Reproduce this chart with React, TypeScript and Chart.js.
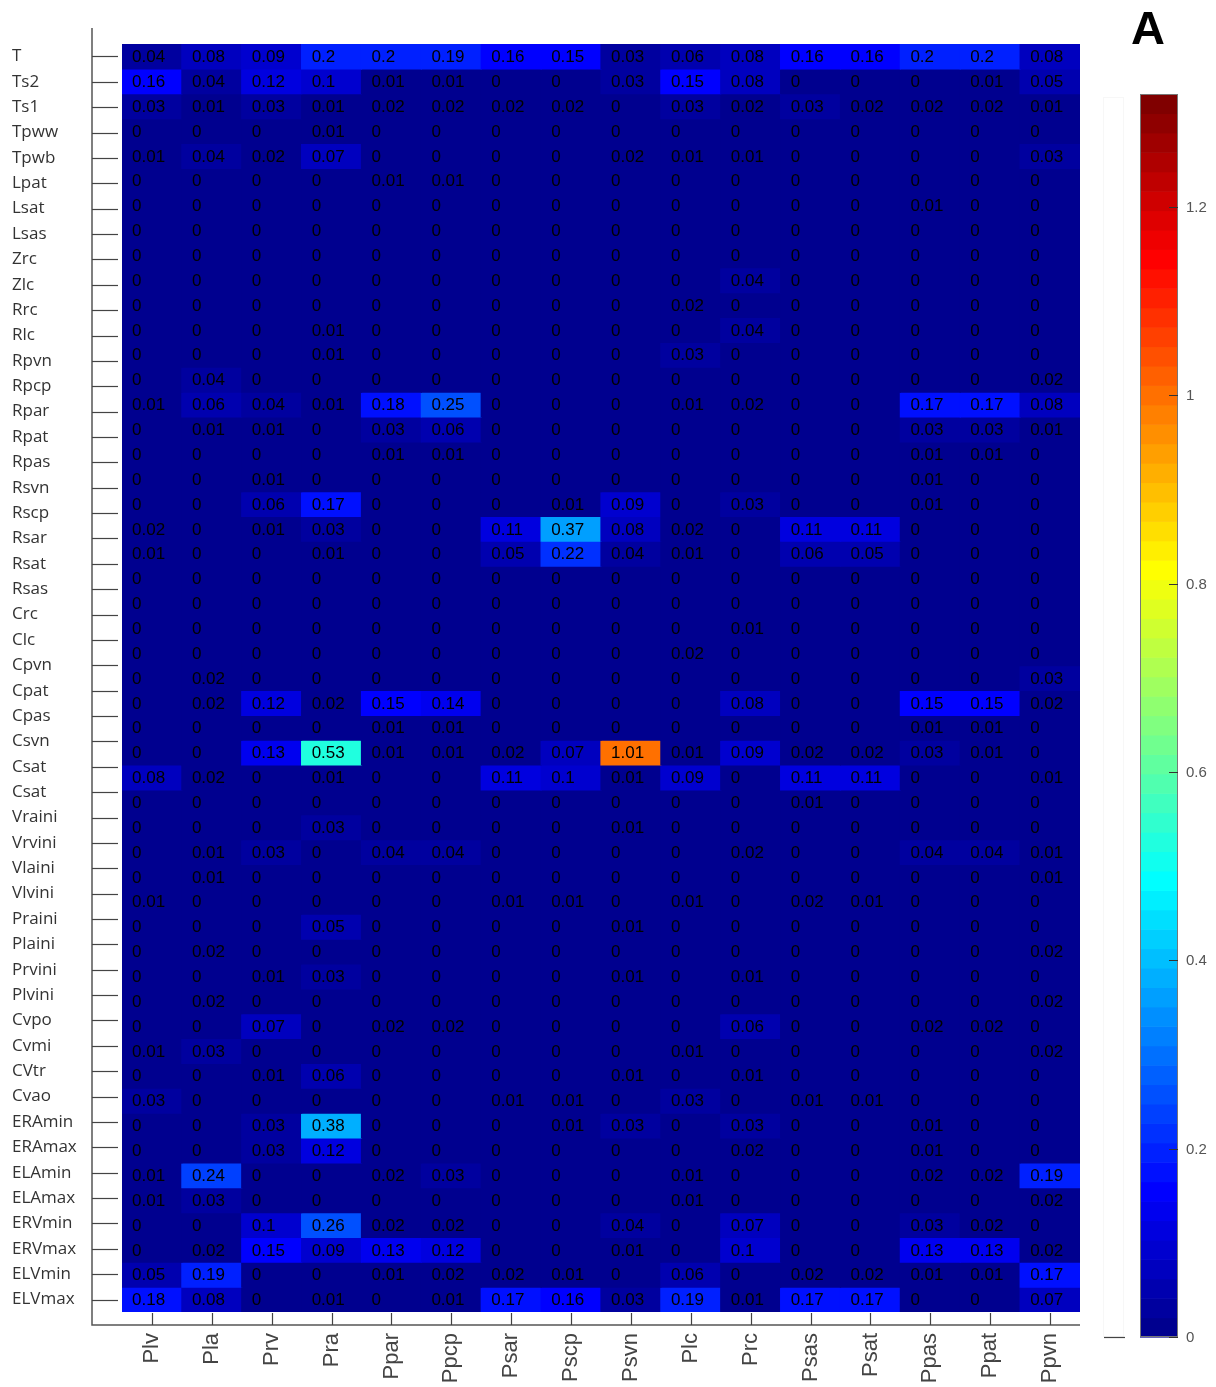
import React, { useEffect, useRef } from "react";
import { Chart, registerables } from "chart.js";

Chart.register(...registerables);

const W = 1216;
const H = 1387;

const rowLabels = [
  "T", "Ts2", "Ts1", "Tpww", "Tpwb", "Lpat", "Lsat", "Lsas", "Zrc", "Zlc",
  "Rrc", "Rlc", "Rpvn", "Rpcp", "Rpar", "Rpat", "Rpas", "Rsvn", "Rscp", "Rsar",
  "Rsat", "Rsas", "Crc", "Clc", "Cpvn", "Cpat", "Cpas", "Csvn", "Csat", "Csat",
  "Vraini", "Vrvini", "Vlaini", "Vlvini", "Praini", "Plaini", "Prvini", "Plvini", "Cvpo", "Cvmi",
  "CVtr", "Cvao", "ERAmin", "ERAmax", "ELAmin", "ELAmax", "ERVmin", "ERVmax", "ELVmin", "ELVmax",
];

const colLabels = [
  "Plv", "Pla", "Prv", "Pra", "Ppar", "Ppcp", "Psar", "Pscp",
  "Psvn", "Plc", "Prc", "Psas", "Psat", "Ppas", "Ppat", "Ppvn",
];

// cell rows as drawn in the picture (top to bottom)
const cellValues: number[][] = [
  [0.04, 0.08, 0.09, 0.2, 0.2, 0.19, 0.16, 0.15, 0.03, 0.06, 0.08, 0.16, 0.16, 0.2, 0.2, 0.08],
  [0.16, 0.04, 0.12, 0.1, 0.01, 0.01, 0, 0, 0.03, 0.15, 0.08, 0, 0, 0, 0.01, 0.05],
  [0.03, 0.01, 0.03, 0.01, 0.02, 0.02, 0.02, 0.02, 0, 0.03, 0.02, 0.03, 0.02, 0.02, 0.02, 0.01],
  [0, 0, 0, 0.01, 0, 0, 0, 0, 0, 0, 0, 0, 0, 0, 0, 0],
  [0.01, 0.04, 0.02, 0.07, 0, 0, 0, 0, 0.02, 0.01, 0.01, 0, 0, 0, 0, 0.03],
  [0, 0, 0, 0, 0.01, 0.01, 0, 0, 0, 0, 0, 0, 0, 0, 0, 0],
  [0, 0, 0, 0, 0, 0, 0, 0, 0, 0, 0, 0, 0, 0.01, 0, 0],
  [0, 0, 0, 0, 0, 0, 0, 0, 0, 0, 0, 0, 0, 0, 0, 0],
  [0, 0, 0, 0, 0, 0, 0, 0, 0, 0, 0, 0, 0, 0, 0, 0],
  [0, 0, 0, 0, 0, 0, 0, 0, 0, 0, 0.04, 0, 0, 0, 0, 0],
  [0, 0, 0, 0, 0, 0, 0, 0, 0, 0.02, 0, 0, 0, 0, 0, 0],
  [0, 0, 0, 0.01, 0, 0, 0, 0, 0, 0, 0.04, 0, 0, 0, 0, 0],
  [0, 0, 0, 0.01, 0, 0, 0, 0, 0, 0.03, 0, 0, 0, 0, 0, 0],
  [0, 0.04, 0, 0, 0, 0, 0, 0, 0, 0, 0, 0, 0, 0, 0, 0.02],
  [0.01, 0.06, 0.04, 0.01, 0.18, 0.25, 0, 0, 0, 0.01, 0.02, 0, 0, 0.17, 0.17, 0.08],
  [0, 0.01, 0.01, 0, 0.03, 0.06, 0, 0, 0, 0, 0, 0, 0, 0.03, 0.03, 0.01],
  [0, 0, 0, 0, 0.01, 0.01, 0, 0, 0, 0, 0, 0, 0, 0.01, 0.01, 0],
  [0, 0, 0.01, 0, 0, 0, 0, 0, 0, 0, 0, 0, 0, 0.01, 0, 0],
  [0, 0, 0.06, 0.17, 0, 0, 0, 0.01, 0.09, 0, 0.03, 0, 0, 0.01, 0, 0],
  [0.02, 0, 0.01, 0.03, 0, 0, 0.11, 0.37, 0.08, 0.02, 0, 0.11, 0.11, 0, 0, 0],
  [0.01, 0, 0, 0.01, 0, 0, 0.05, 0.22, 0.04, 0.01, 0, 0.06, 0.05, 0, 0, 0],
  [0, 0, 0, 0, 0, 0, 0, 0, 0, 0, 0, 0, 0, 0, 0, 0],
  [0, 0, 0, 0, 0, 0, 0, 0, 0, 0, 0, 0, 0, 0, 0, 0],
  [0, 0, 0, 0, 0, 0, 0, 0, 0, 0, 0.01, 0, 0, 0, 0, 0],
  [0, 0, 0, 0, 0, 0, 0, 0, 0, 0.02, 0, 0, 0, 0, 0, 0],
  [0, 0.02, 0, 0, 0, 0, 0, 0, 0, 0, 0, 0, 0, 0, 0, 0.03],
  [0, 0.02, 0.12, 0.02, 0.15, 0.14, 0, 0, 0, 0, 0.08, 0, 0, 0.15, 0.15, 0.02],
  [0, 0, 0, 0, 0.01, 0.01, 0, 0, 0, 0, 0, 0, 0, 0.01, 0.01, 0],
  [0, 0, 0.13, 0.53, 0.01, 0.01, 0.02, 0.07, 1.01, 0.01, 0.09, 0.02, 0.02, 0.03, 0.01, 0],
  [0.08, 0.02, 0, 0.01, 0, 0, 0.11, 0.1, 0.01, 0.09, 0, 0.11, 0.11, 0, 0, 0.01],
  [0, 0, 0, 0, 0, 0, 0, 0, 0, 0, 0, 0.01, 0, 0, 0, 0],
  [0, 0, 0, 0.03, 0, 0, 0, 0, 0.01, 0, 0, 0, 0, 0, 0, 0],
  [0, 0.01, 0.03, 0, 0.04, 0.04, 0, 0, 0, 0, 0.02, 0, 0, 0.04, 0.04, 0.01],
  [0, 0.01, 0, 0, 0, 0, 0, 0, 0, 0, 0, 0, 0, 0, 0, 0.01],
  [0.01, 0, 0, 0, 0, 0, 0.01, 0.01, 0, 0.01, 0, 0.02, 0.01, 0, 0, 0],
  [0, 0, 0, 0.05, 0, 0, 0, 0, 0.01, 0, 0, 0, 0, 0, 0, 0],
  [0, 0.02, 0, 0, 0, 0, 0, 0, 0, 0, 0, 0, 0, 0, 0, 0.02],
  [0, 0, 0.01, 0.03, 0, 0, 0, 0, 0.01, 0, 0.01, 0, 0, 0, 0, 0],
  [0, 0.02, 0, 0, 0, 0, 0, 0, 0, 0, 0, 0, 0, 0, 0, 0.02],
  [0, 0, 0.07, 0, 0.02, 0.02, 0, 0, 0, 0, 0.06, 0, 0, 0.02, 0.02, 0],
  [0.01, 0.03, 0, 0, 0, 0, 0, 0, 0, 0.01, 0, 0, 0, 0, 0, 0.02],
  [0, 0, 0.01, 0.06, 0, 0, 0, 0, 0.01, 0, 0.01, 0, 0, 0, 0, 0],
  [0.03, 0, 0, 0, 0, 0, 0.01, 0.01, 0, 0.03, 0, 0.01, 0.01, 0, 0, 0],
  [0, 0, 0.03, 0.38, 0, 0, 0, 0.01, 0.03, 0, 0.03, 0, 0, 0.01, 0, 0],
  [0, 0, 0.03, 0.12, 0, 0, 0, 0, 0, 0, 0.02, 0, 0, 0.01, 0, 0],
  [0.01, 0.24, 0, 0, 0.02, 0.03, 0, 0, 0, 0.01, 0, 0, 0, 0.02, 0.02, 0.19],
  [0.01, 0.03, 0, 0, 0, 0, 0, 0, 0, 0.01, 0, 0, 0, 0, 0, 0.02],
  [0, 0, 0.1, 0.26, 0.02, 0.02, 0, 0, 0.04, 0, 0.07, 0, 0, 0.03, 0.02, 0],
  [0, 0.02, 0.15, 0.09, 0.13, 0.12, 0, 0, 0.01, 0, 0.1, 0, 0, 0.13, 0.13, 0.02],
  [0.05, 0.19, 0, 0, 0.01, 0.02, 0.02, 0.01, 0, 0.06, 0, 0.02, 0.02, 0.01, 0.01, 0.17],
  [0.18, 0.08, 0, 0.01, 0, 0.01, 0.17, 0.16, 0.03, 0.19, 0.01, 0.17, 0.17, 0, 0, 0.07],
];

const colorbarTicks = [0, 0.2, 0.4, 0.6, 0.8, 1, 1.2];
const colorMax = 1.32;
const panelLetter = "A";

function jetMap(m: number): number[][] {
  const n = Math.ceil(m / 4);
  const u: number[] = [];
  for (let i = 1; i <= n; i++) u.push(i / n);
  for (let i = 1; i < n; i++) u.push(1);
  for (let i = n; i >= 1; i--) u.push(i / n);
  const off = Math.ceil(n / 2) - (m % 4 === 1 ? 1 : 0);
  const J = Array.from({ length: m }, () => [0, 0, 0]);
  for (let k = 0; k < u.length; k++) {
    const g = off + k + 1;
    const r = g + n;
    const b = g - n;
    if (g >= 1 && g <= m) J[g - 1][1] = u[k];
    if (r >= 1 && r <= m) J[r - 1][0] = u[k];
    if (b >= 1 && b <= m) J[b - 1][2] = u[k];
  }
  return J;
}

const JET = jetMap(64);
const rgbOf = (c: number[]) =>
  `rgb(${Math.round(c[0] * 255)},${Math.round(c[1] * 255)},${Math.round(c[2] * 255)})`;
const colorOf = (v: number) => {
  let i = Math.floor((v / colorMax) * JET.length);
  i = Math.max(0, Math.min(JET.length - 1, i));
  return rgbOf(JET[i]);
};

export default function App() {
  const ref = useRef<HTMLCanvasElement>(null);

  useEffect(() => {
    const canvas = ref.current;
    if (!canvas) return;
    const nRows = cellValues.length;

    const datasets = cellValues.map((row, r) => ({
      label: "row" + r,
      data: row.map(() => 1),
      backgroundColor: row.map(colorOf),
      borderWidth: 0,
      barPercentage: 1,
      categoryPercentage: 1,
      inflateAmount: 0.6,
    }));

    const overlay = {
      id: "overlay",
      afterDraw(chart: any) {
        const ctx = chart.ctx as CanvasRenderingContext2D;
        const xs = chart.scales.x;
        const ys = chart.scales.y;
        const ca = chart.chartArea;
        ctx.save();

        // cell texts
        ctx.font = '17px "Liberation Sans", Arial, sans-serif';
        ctx.fillStyle = "#000";
        ctx.textAlign = "left";
        ctx.textBaseline = "middle";
        cellValues.forEach((row, r) => {
          const meta = chart.getDatasetMeta(r);
          row.forEach((v, c) => {
            const el = meta.data[c];
            const p = el.getProps(["x", "y", "base", "width"], true);
            ctx.fillText(String(v), p.x - p.width / 2 + 10, (p.y + p.base) / 2 + 1);
          });
        });

        // axes lines
        const axX = ca.left - 30;
        const axY = ca.bottom + 13;
        ctx.strokeStyle = "#555";
        ctx.lineWidth = 1.5;
        ctx.beginPath();
        ctx.moveTo(axX, ca.top - 16);
        ctx.lineTo(axX, axY);
        ctx.lineTo(ca.right, axY);
        ctx.stroke();

        ctx.lineWidth = 1.2;
        ctx.strokeStyle = "#444";
        ys.ticks.forEach((t: any) => {
          const y = Math.round(ys.getPixelForValue(t.value)) + 0.5;
          ctx.beginPath();
          ctx.moveTo(axX, y);
          ctx.lineTo(ca.left - 4, y);
          ctx.stroke();
        });
        colLabels.forEach((_, c) => {
          const x = Math.round(xs.getPixelForValue(c)) + 0.5;
          ctx.beginPath();
          ctx.moveTo(x, axY);
          ctx.lineTo(x, ca.bottom + 1);
          ctx.stroke();
        });

        // colorbar
        const cbL = 1140, cbR = 1178, cbT = 94, cbB = 1337;
        const bandH = (cbB - cbT) / JET.length;
        JET.forEach((c, i) => {
          ctx.fillStyle = rgbOf(c);
          ctx.fillRect(cbL, cbB - (i + 1) * bandH, cbR - cbL, bandH + 0.6);
        });
        ctx.strokeStyle = "#777";
        ctx.lineWidth = 1;
        ctx.strokeRect(cbL + 0.5, cbT + 0.5, cbR - cbL - 1, cbB - cbT - 1);
        ctx.font = '15px "Liberation Sans", Arial, sans-serif';
        ctx.fillStyle = "#555";
        ctx.textAlign = "left";
        ctx.textBaseline = "middle";
        colorbarTicks.forEach((tv) => {
          const y = Math.round(cbB - (tv / colorMax) * (cbB - cbT)) + 0.5;
          ctx.strokeStyle = "#333";
          ctx.beginPath();
          ctx.moveTo(cbR - 9, y);
          ctx.lineTo(cbR, y);
          ctx.stroke();
          ctx.fillText(String(tv), cbR + 8, y);
        });

        // faint companion strip and dash
        ctx.strokeStyle = "#f7f7f7";
        ctx.strokeRect(1103.5, 97.5, 20, 1239);
        ctx.strokeStyle = "#444";
        ctx.lineWidth = 1.2;
        ctx.beginPath();
        ctx.moveTo(1104, 1337.5);
        ctx.lineTo(1125, 1337.5);
        ctx.stroke();

        // panel letter
        ctx.font = 'bold 47px "Liberation Sans", Arial, sans-serif';
        ctx.fillStyle = "#000";
        ctx.textAlign = "left";
        ctx.textBaseline = "alphabetic";
        ctx.fillText(panelLetter, 1131, 44);

        ctx.restore();
      },
    };

    const chart = new Chart(canvas, {
      type: "bar",
      data: { labels: colLabels, datasets: datasets as any },
      options: {
        responsive: false,
        animation: false,
        devicePixelRatio: 1,
        layout: { padding: { left: 12, top: 44, right: W - 1080, bottom: 0 } },
        plugins: { legend: { display: false }, tooltip: { enabled: false } },
        scales: {
          x: {
            type: "category",
            stacked: true,
            offset: true,
            grid: { display: false, drawTicks: false },
            border: { display: false },
            ticks: {
              autoSkip: false,
              minRotation: 90,
              maxRotation: 90,
              padding: 21,
              color: "#444",
              font: { family: '"Liberation Sans", Arial, sans-serif', size: 22 },
            },
            afterFit: (s: any) => {
              s.height = 75;
            },
          },
          y: {
            type: "linear",
            stacked: true,
            reverse: true,
            min: 0,
            max: nRows,
            grid: { display: false, drawTicks: false },
            border: { display: false },
            afterBuildTicks: (s: any) => {
              s.ticks = rowLabels.map((_, k) => ({
                value: 0.5 + (k * (nRows - 1)) / (rowLabels.length - 1),
              }));
            },
            ticks: {
              autoSkip: false,
              crossAlign: "far",
              padding: 0,
              color: "#333",
              font: { family: '"Open Sans", "Noto Sans", sans-serif', size: 17 },
              callback: (_v: any, i: number) => rowLabels[i],
            },
            afterFit: (s: any) => {
              s.width = 110;
            },
          },
        },
      } as any,
      plugins: [overlay],
    });

    return () => chart.destroy();
  }, []);

  return (
    <div style={{ position: "absolute", left: 0, top: 0, width: W, height: H, background: "#fff" }}>
      <canvas ref={ref} width={W} height={H} style={{ display: "block", width: W, height: H }} />
    </div>
  );
}
